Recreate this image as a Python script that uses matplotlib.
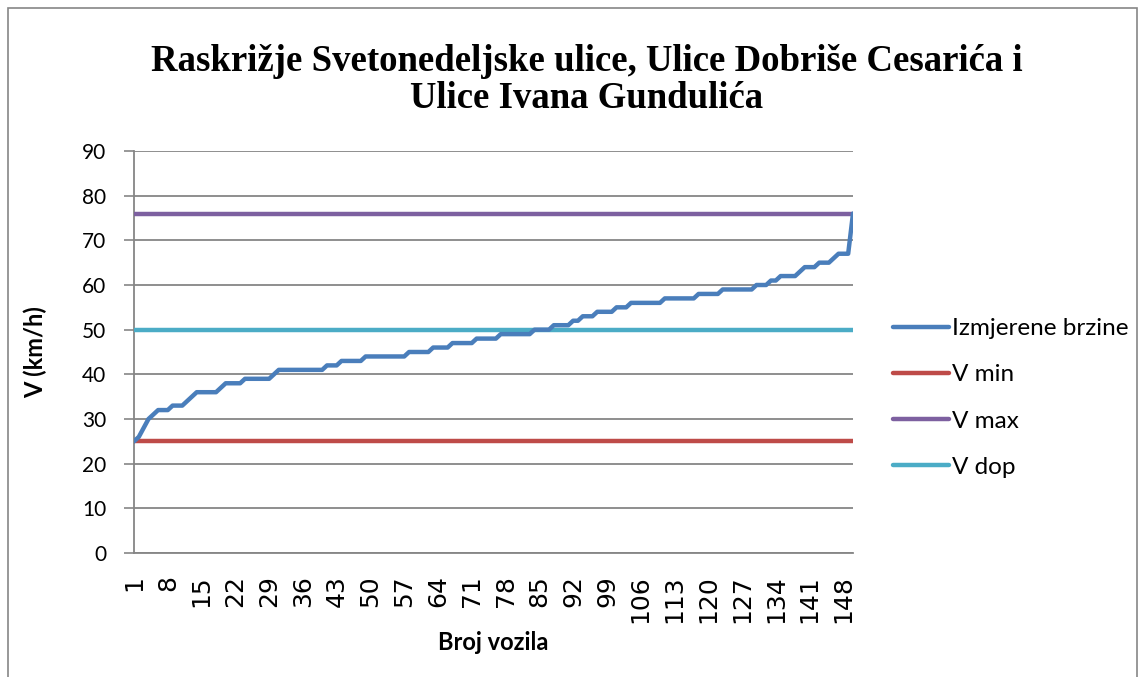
import numpy as np
import matplotlib.pyplot as plt
from matplotlib.patches import Rectangle

# Podaci (izmjerene brzine, sortirane)
brzine = [25, 26, 28, 30, 31, 32, 32, 32, 33, 33,
          33, 34, 35, 36, 36, 36, 36, 36, 37, 38,
          38, 38, 38, 39, 39, 39, 39, 39, 39, 40,
          41, 41, 41, 41, 41, 41, 41, 41, 41, 41,
          42, 42, 42, 43, 43, 43, 43, 43, 44, 44,
          44, 44, 44, 44, 44, 44, 44, 45, 45, 45,
          45, 45, 46, 46, 46, 46, 47, 47, 47, 47,
          47, 48, 48, 48, 48, 48, 49, 49, 49, 49,
          49, 49, 49, 50, 50, 50, 50, 51, 51, 51,
          51, 52, 52, 53, 53, 53, 54, 54, 54, 54,
          55, 55, 55, 56, 56, 56, 56, 56, 56, 56,
          57, 57, 57, 57, 57, 57, 57, 58, 58, 58,
          58, 58, 59, 59, 59, 59, 59, 59, 59, 60,
          60, 60, 61, 61, 62, 62, 62, 62, 63, 64,
          64, 64, 65, 65, 65, 66, 67, 67, 67, 76]
v_min = 25
v_max = 76
v_dop = 50

vozila = np.arange(1, len(brzine) + 1)

plt.rcParams['font.family'] = ['Lato', 'DejaVu Sans']

fig = plt.figure(figsize=(11.45, 6.77), dpi=100)
ax = fig.add_axes([134 / 1145, 1 - 553 / 677, (853 - 134) / 1145, (553 - 151) / 677])

ax.plot(vozila, brzine, color='#4A7EBB', lw=3.2, label='Izmjerene brzine', solid_capstyle='round', zorder=5)
ax.plot(vozila, [v_min] * len(vozila), color='#BE4B48', lw=3.2, label='V min', solid_capstyle='round', zorder=4)
ax.plot(vozila, [v_max] * len(vozila), color='#7D60A0', lw=3.2, label='V max', solid_capstyle='round', zorder=4)
ax.plot(vozila, [v_dop] * len(vozila), color='#4BACC6', lw=3.2, label='V dop', solid_capstyle='round', zorder=4)

ax.set_xlim(1, len(brzine))
ax.set_ylim(0, 90)
ax.set_yticks(range(0, 91, 10))
ax.set_xticks(range(1, len(brzine) + 1, 7))
ax.tick_params(axis='x', labelrotation=90, length=0, pad=16)
ax.tick_params(axis='y', length=7, width=1.2, color='#868686', labelsize=15, pad=13)
for lab in ax.get_xticklabels():
    lab.set_family('DejaVu Sans')
    lab.set_fontsize(18)
ax.grid(axis='y', color='#868686', lw=1.3)
ax.set_axisbelow(True)
for s in ['top', 'right']:
    ax.spines[s].set_visible(False)
ax.spines['left'].set_color('#868686')
ax.spines['bottom'].set_color('#868686')
ax.spines['left'].set_linewidth(1.3)
ax.spines['bottom'].set_linewidth(1.3)

ax.set_ylabel('V (km/h)', fontsize=17, fontweight='bold', va='center')
ax.yaxis.set_label_coords((35 - 134) / 719, 0.5)
ax.set_xlabel('Broj vozila', fontsize=17, fontweight='bold', va='center')
ax.xaxis.set_label_coords(0.5, (553 - 642) / 402)

fig.text(587 / 1145, 1 - 80 / 677,
         'Raskrižje Svetonedeljske ulice, Ulice Dobriše Cesarića i\nUlice Ivana Gundulića',
         ha='center', va='center', fontsize=26.5, fontweight='bold',
         family='Liberation Serif', linespacing=1.1)

ax.legend(loc='center left', bbox_to_anchor=(1.025, (553 - 398) / 402), frameon=False,
          fontsize=17.5, handlelength=2.3, handletextpad=0.15, labelspacing=1.03)

# okvir grafikona
fig.patches.append(Rectangle((8 / 1145, -0.1), (1137 - 8) / 1145, 1.1 - 8 / 677,
                             transform=fig.transFigure, fill=False,
                             edgecolor='#868686', lw=1.2))

fig.savefig('out.png', dpi=100)
